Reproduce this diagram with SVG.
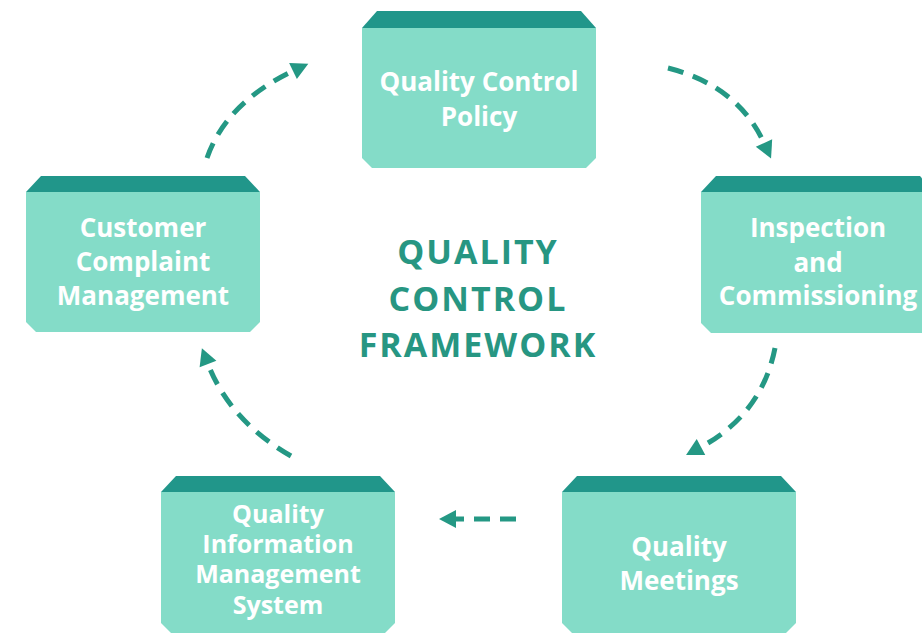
<svg xmlns="http://www.w3.org/2000/svg" width="922" height="633" viewBox="0 0 922 633">
<defs>
<style>
.band{fill:#21968a}
.body{fill:#84dcc8}
.lbl{font-family:"Open Sans","Liberation Sans",sans-serif;font-weight:bold;font-size:26px;fill:#ffffff;text-anchor:middle}
.sm{font-size:25px}
.title{font-family:"Open Sans","Liberation Sans",sans-serif;font-weight:bold;font-size:34px;fill:#279682;text-anchor:middle;letter-spacing:2px}
.conn{fill:none;stroke:#249884;stroke-width:5;stroke-dasharray:16 10}
</style>
<marker id="ah" markerUnits="userSpaceOnUse" markerWidth="20" markerHeight="20" viewBox="0 -10 18 20" refX="0" refY="0" orient="auto">
<path d="M0,-9 L17,0 L0,9 z" fill="#249884"/>
</marker>
</defs>
<rect width="922" height="633" fill="#ffffff"/>
<g id="connectors">
<path class="conn" d="M668,68 Q738,86 764,143" marker-end="url(#ah)"/>
<path class="conn" d="M775,348 Q762,414 701,447" marker-end="url(#ah)"/>
<path class="conn" d="M516,519 L456,519" marker-end="url(#ah)"/>
<path class="conn" d="M291,456 Q230,421 208,364" marker-end="url(#ah)"/>
<path class="conn" d="M207,158 Q226,103 293,71" marker-end="url(#ah)"/>
</g>
<g id="node-policy">
<path class="band" d="M377,11 L581,11 L596,28 L362,28 z"/>
<path class="body" d="M362,28 L596,28 L596,158 L586,168 L372,168 L362,158 z"/>
<text class="lbl" x="479" y="91">Quality Control</text>
<text class="lbl" x="479" y="126">Policy</text>
</g>
<g id="node-inspection">
<path class="band" d="M716,176 L920,176 L935,192 L701,192 z"/>
<path class="body" d="M701,192 L935,192 L935,323 L925,333 L711,333 L701,323 z"/>
<text class="lbl" x="818" y="237">Inspection</text>
<text class="lbl" x="818" y="272">and</text>
<text class="lbl" x="818" y="305">Commissioning</text>
</g>
<g id="node-meetings">
<path class="band" d="M577,476 L781,476 L796,492 L562,492 z"/>
<path class="body" d="M562,492 L796,492 L796,623 L786,633 L572,633 L562,623 z"/>
<text class="lbl" x="679" y="556">Quality</text>
<text class="lbl" x="679" y="590">Meetings</text>
</g>
<g id="node-qims">
<path class="band" d="M176,476 L380,476 L395,492 L161,492 z"/>
<path class="body" d="M161,492 L395,492 L395,623 L385,633 L171,633 L161,623 z"/>
<text class="lbl sm" x="278" y="523">Quality</text>
<text class="lbl sm" x="278" y="553">Information</text>
<text class="lbl sm" x="278" y="583">Management</text>
<text class="lbl sm" x="278" y="614">System</text>
</g>
<g id="node-complaint">
<path class="band" d="M41,176 L245,176 L260,192 L26,192 z"/>
<path class="body" d="M26,192 L260,192 L260,322 L250,332 L36,332 L26,322 z"/>
<text class="lbl" x="143" y="237">Customer</text>
<text class="lbl" x="143" y="271">Complaint</text>
<text class="lbl" x="143" y="305">Management</text>
</g>
<g id="title">
<text class="title" x="478" y="264">QUALITY</text>
<text class="title" x="478" y="311">CONTROL</text>
<text class="title" x="478" y="357">FRAMEWORK</text>
</g>
</svg>
